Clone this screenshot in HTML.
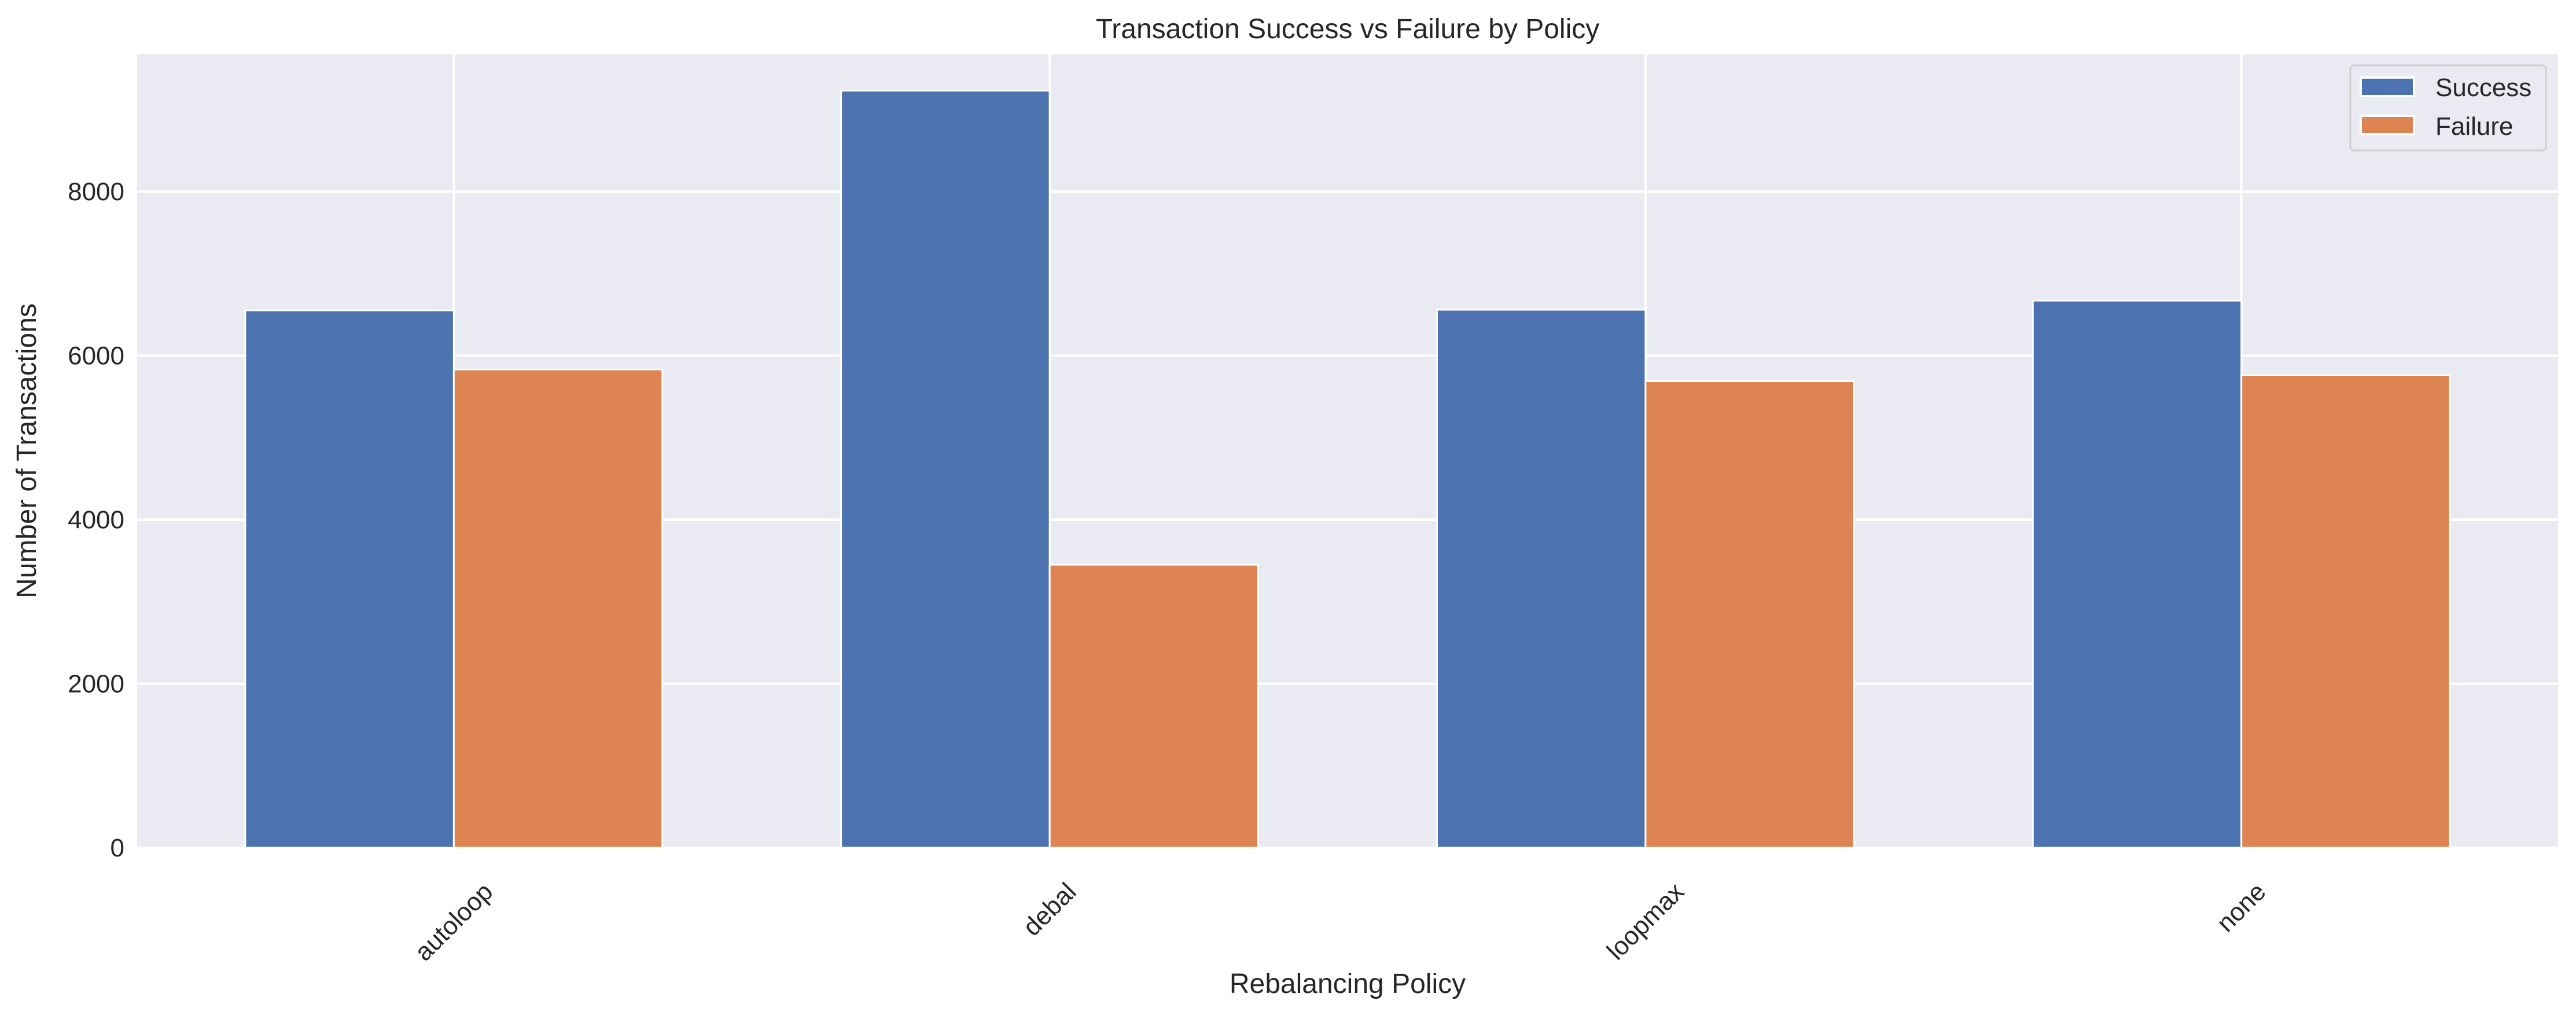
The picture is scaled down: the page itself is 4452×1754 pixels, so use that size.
<!DOCTYPE html>
<html><head><meta charset="utf-8">
<style>
html,body{margin:0;padding:0;background:#fff;}
svg{display:block;font-family:"Liberation Sans",Arial,sans-serif;}
</style></head>
<body>
<svg id="chart" width="4452" height="1754" viewBox="0 0 4452 1754" xmlns="http://www.w3.org/2000/svg">
<rect x="0" y="0" width="4452" height="1754" fill="#ffffff"/>
<rect x="237" y="94" width="4184" height="1371" fill="#eaeaf2"/>
<g id="grid"></g>
<g id="bars"></g>
<g id="ticks"></g>
<text x="2329" y="66" font-size="48" text-anchor="middle" fill="#262626">Transaction Success vs Failure by Policy</text>
<text x="2329" y="1716" font-size="48" text-anchor="middle" fill="#262626">Rebalancing Policy</text>
<text transform="translate(62,779) rotate(-90)" font-size="48" text-anchor="middle" fill="#262626">Number of Transactions</text>
<g>
<rect x="4062" y="113" width="338" height="147" rx="6" fill="#eaeaf2" stroke="#d0d0d0" stroke-width="3"/>
<rect x="4080" y="134" width="92" height="32" fill="#4c72b0" stroke="#fff" stroke-width="4"/>
<text x="4209" y="166" font-size="44" fill="#262626">Success</text>
<rect x="4080" y="200" width="92" height="32" fill="#dd8452" stroke="#fff" stroke-width="4"/>
<text x="4209" y="233" font-size="44" fill="#262626">Failure</text>
</g>
</svg>
<script>
const categories = ["autoloop", "debal", "loopmax", "none"];
const successValues = [6550, 9230, 6560, 6670];
const failureValues = [5830, 3450, 5690, 5760];
const yTicks = [0, 2000, 4000, 6000, 8000];

const NS = "http://www.w3.org/2000/svg";
const L = 237, R = 4421, T = 94, B = 1465;
const yMax = 9672, xMin = -0.5315, xMax = categories.length - 1 + 0.5315;
const xs = v => L + (v - xMin) / (xMax - xMin) * (R - L);
const ys = v => B - v / yMax * (B - T);
const bw = 0.35;
function mk(tag, attrs, parent) {
  const e = document.createElementNS(NS, tag);
  for (const k in attrs) e.setAttribute(k, attrs[k]);
  parent.appendChild(e);
  return e;
}
const grid = document.getElementById('grid');
const bars = document.getElementById('bars');
const ticks = document.getElementById('ticks');

yTicks.forEach(t => {
  const y = ys(t);
  const gl = mk('line', {x1: L, x2: R, y1: y, y2: y, stroke: '#fff', 'stroke-width': 4}, grid);
  
  
  const tl = mk('text', {x: 215, y: y + 15, 'font-size': 44, 'text-anchor': 'end', fill: '#262626'}, ticks);
  tl.textContent = t;
  
  
});

categories.forEach((c, i) => {
  const x = xs(i);
  const gl = mk('line', {x1: x, x2: x, y1: T, y2: B, stroke: '#fff', 'stroke-width': 4}, grid);
  
  

  const x0 = xs(i - bw), x1 = xs(i), x2 = xs(i + bw);
  const sb = mk('rect', {x: x0, y: ys(successValues[i]), width: x1 - x0, height: B - ys(successValues[i]), fill: '#4c72b0', stroke: '#fff', 'stroke-width': 3}, bars);
  
  
  const fb = mk('rect', {x: x1, y: ys(failureValues[i]), width: x2 - x1, height: B - ys(failureValues[i]), fill: '#dd8452', stroke: '#fff', 'stroke-width': 3}, bars);
  
  

  const tl = mk('text', {x: 0, y: 0, 'font-size': 44, 'text-anchor': 'middle', 'dominant-baseline': 'central', fill: '#262626'}, ticks);
  tl.textContent = c;
  
  
  let w = 44 * c.length * 0.5;
  try { w = tl.getComputedTextLength(); } catch (e) {}
  const half = (w + 44) / (2 * Math.SQRT2);
  tl.setAttribute('transform', 'translate(' + x + ',' + (1518 + half) + ') rotate(-45)');
});
</script>
</body></html>
